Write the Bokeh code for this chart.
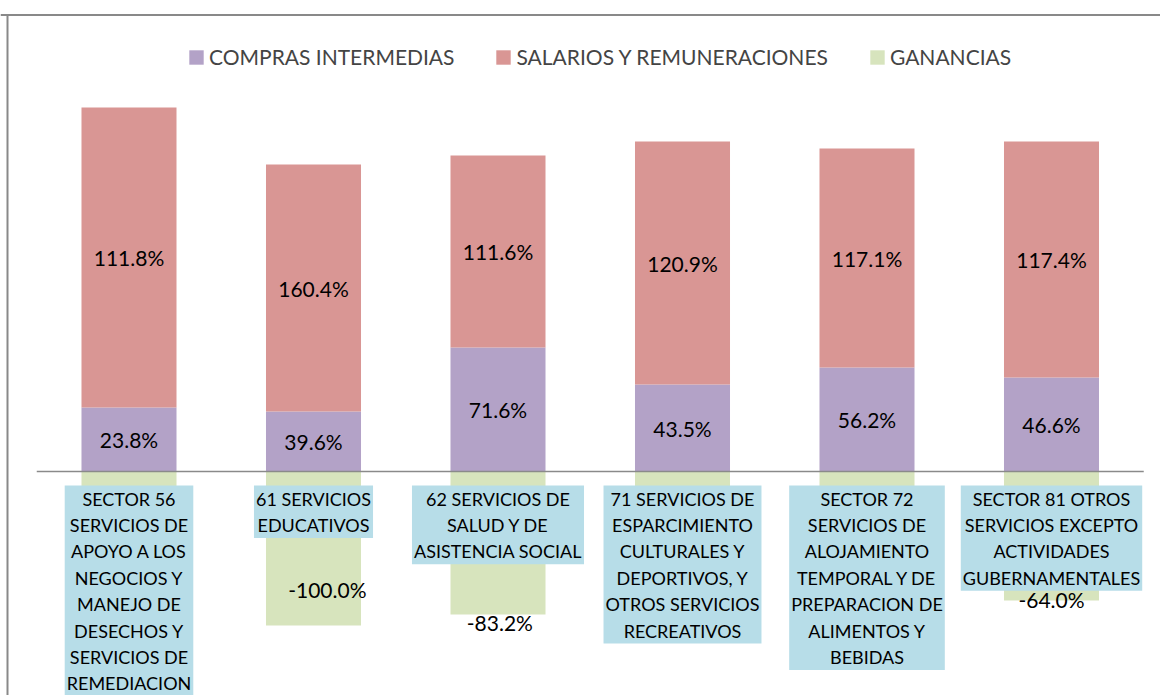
import numpy as np
from bokeh.plotting import figure
from bokeh.models import Range1d, Legend, LegendItem, ColumnDataSource
from bokeh.core.properties import value
from bokeh.embed import file_html
from bokeh.resources import INLINE

# ---------------- data ----------------
sectores = [
    "SECTOR 56\nSERVICIOS DE\nAPOYO A LOS\nNEGOCIOS Y\nMANEJO DE\nDESECHOS Y\nSERVICIOS DE\nREMEDIACION",
    "61 SERVICIOS\nEDUCATIVOS",
    "62 SERVICIOS DE\nSALUD Y DE\nASISTENCIA SOCIAL",
    "71 SERVICIOS DE\nESPARCIMIENTO\nCULTURALES Y\nDEPORTIVOS, Y\nOTROS SERVICIOS\nRECREATIVOS",
    "SECTOR 72\nSERVICIOS DE\nALOJAMIENTO\nTEMPORAL Y DE\nPREPARACION DE\nALIMENTOS Y\nBEBIDAS",
    "SECTOR 81 OTROS\nSERVICIOS EXCEPTO\nACTIVIDADES\nGUBERNAMENTALES",
]
series_names = ["COMPRAS INTERMEDIAS", "SALARIOS Y REMUNERACIONES", "GANANCIAS"]
compras = [64, 60, 124, 87, 104, 94]
salarios = [300, 247, 192, 243, 219, 236]
ganancias = [-120, -154, -143, -100, -110, -129]
compras_pct = ["23.8%", "39.6%", "71.6%", "43.5%", "56.2%", "46.6%"]
salarios_pct = ["111.8%", "160.4%", "111.6%", "120.9%", "117.1%", "117.4%"]
ganancias_pct = ["", "-100.0%", "-83.2%", "", "", "-64.0%"]

# ---------------- style ----------------
C_COMPRAS = "#b3a2c7"
C_SALARIOS = "#d99694"
C_GANANCIAS = "#d7e4bd"
C_BOX = "#b7dde8"
FONT = "Lato"
W, H = 1160, 695
PX = 184.5                     # pixels per category
X0 = -128.5 / PX
Y0, Y1 = -224, 471
gan_dx = [0, 0.075, 0.01, 0, 0, 0]      # label nudges (category units)
gan_dy = [0, 36, -8, 0, 0, 1]           # label nudges (y units)

idx = np.arange(len(sectores), dtype=float)
comp = np.array(compras, dtype=float)
sal = np.array(salarios, dtype=float)
gan = np.array(ganancias, dtype=float)

src = ColumnDataSource(dict(
    x=idx, compras=comp, salarios=sal, ganancias=gan, sector=sectores,
    c_y=comp / 2, s_y=comp + sal / 2,
    g_x=idx + np.array(gan_dx), g_y=gan + np.array(gan_dy),
    c_t=compras_pct, s_t=salarios_pct, g_t=ganancias_pct,
))

p = figure(width=W, height=H, output_backend="svg", toolbar_location=None,
           x_range=Range1d(X0, X0 + W / PX), y_range=Range1d(Y0, Y1),
           x_axis_location=None, y_axis_location=None, min_border=0)
p.grid.visible = False
p.outline_line_color = None
p.background_fill_color = "white"
p.border_fill_color = "white"

# chart border (top and left)
p.segment(x0=[X0, X0 + 7.0 / PX], x1=[X0 + W / PX, X0 + 7.0 / PX],
          y0=[Y1 - 14.5, Y1 - 14.5], y1=[Y1 - 14.5, Y0],
          line_color="#898989", line_width=2)

bars = p.vbar_stack(["compras", "salarios"], x="x", width=0.515, source=src,
                    fill_color=[C_COMPRAS, C_SALARIOS], line_color=None)
gbar = p.vbar(x="x", top=0, bottom="ganancias", width=0.515, source=src,
              fill_color=C_GANANCIAS, line_color=None)

# axis line
p.segment(x0=idx[0] - 0.5, x1=idx[-1] + 0.5, y0=0, y1=0,
          line_color="#8a8a8a", line_width=1.5)

# value labels
for yk, tk in [("c_y", "c_t"), ("s_y", "s_t")]:
    p.text(x="x", y=yk, text=tk, source=src, text_align="center",
           text_baseline="middle", text_font=value(FONT),
           text_font_size="21px", text_color="black")

# category labels (boxes)
p.text(x="x", y=-14, text="sector", source=src, text_align="center",
       text_baseline="top", text_font=value(FONT), text_font_size="18px",
       text_line_height=1.2, text_color="black",
       background_fill_color=C_BOX, padding=2)

p.text(x="g_x", y="g_y", text="g_t", source=src, text_align="center",
       text_baseline="middle", text_font=value(FONT),
       text_font_size="21px", text_color="black")

legend = Legend(items=[
    LegendItem(label=series_names[0], renderers=[bars[0]]),
    LegendItem(label=series_names[1], renderers=[bars[1]]),
    LegendItem(label=series_names[2], renderers=[gbar]),
], orientation="horizontal", location=(187, 626),
    glyph_width=18, glyph_height=18, label_standoff=4, spacing=40,
    padding=0, margin=0, border_line_color=None, background_fill_alpha=0,
    label_text_font=FONT, label_text_font_size="21px", label_height=18)
p.add_layout(legend)

open("out.html", "w").write(file_html(p, INLINE))
